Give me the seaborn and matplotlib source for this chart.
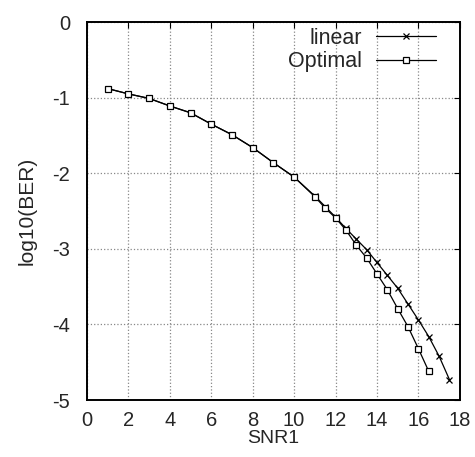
import numpy as np
import pandas as pd
import matplotlib
matplotlib.use('Agg')
import matplotlib.pyplot as plt
import seaborn as sns

# podaci ocitani sa slike
snr_linear = [1, 2, 3, 4, 5, 6, 7, 8, 9, 10, 11, 11.5, 12, 12.5, 13, 13.5,
              14, 14.5, 15, 15.5, 16, 16.5, 17, 17.5]
ber_linear = [-0.88, -0.95, -1.01, -1.11, -1.20, -1.35, -1.49, -1.66, -1.86, -2.05,
              -2.30, -2.44, -2.58, -2.73, -2.87, -3.01, -3.18, -3.35, -3.52, -3.73,
              -3.94, -4.16, -4.42, -4.73]

snr_optimal = [1, 2, 3, 4, 5, 6, 7, 8, 9, 10, 11, 11.5, 12, 12.5, 13, 13.5,
               14, 14.5, 15, 15.5, 16, 16.5]
ber_optimal = [-0.88, -0.95, -1.01, -1.11, -1.20, -1.35, -1.49, -1.66, -1.86, -2.05,
               -2.31, -2.46, -2.59, -2.75, -2.95, -3.12, -3.33, -3.54, -3.79, -4.03,
               -4.32, -4.62]

xticks = [0, 2, 4, 6, 8, 10, 12, 14, 16, 18]
yticks = [0, -1, -2, -3, -4, -5]

df_lin = pd.DataFrame({'SNR1': snr_linear, 'BER': ber_linear})
df_opt = pd.DataFrame({'SNR1': snr_optimal, 'BER': ber_optimal})

sns.set_style('white')
plt.rcParams['font.family'] = ['Liberation Sans', 'DejaVu Sans']
plt.rcParams['axes.unicode_minus'] = False

fig = plt.figure(figsize=(4.75, 4.57), dpi=100)
ax = fig.add_axes([0.183, 0.1247, 0.785, 0.827])

sns.lineplot(data=df_lin, x='SNR1', y='BER', ax=ax, color='black', lw=0.9,
             marker='x', markersize=4, markeredgewidth=0.9,
             markeredgecolor='black', label='linear')
sns.lineplot(data=df_opt, x='SNR1', y='BER', ax=ax, color='black', lw=0.9,
             marker='s', markersize=4.5, markerfacecolor='white',
             markeredgecolor='black', markeredgewidth=0.9, label='Optimal')

ax.set_xlim(0, 18)
ax.set_ylim(-5, 0)
ax.set_xticks(xticks)
ax.set_yticks(yticks)
ax.grid(True, color='#888888', linestyle=':', linewidth=0.9)
ax.tick_params(direction='in', length=4, top=True, right=True,
               labelsize=14.5, color='black')
ax.tick_params(axis='x', pad=8)
ax.tick_params(axis='y', pad=12)
for s in ax.spines.values():
    s.set_color('black')
    s.set_linewidth(1.4)

ax.set_xlabel('SNR1', fontsize=14, labelpad=0)
ax.set_ylabel('log10(BER)', fontsize=15, labelpad=11)

ax.legend(loc='upper right', bbox_to_anchor=(0.936, 0.985), frameon=False,
          markerfirst=False, fontsize=15.5, handlelength=2.8,
          handletextpad=0.65, borderaxespad=0, borderpad=0, labelspacing=0.12)

fig.savefig('out.png', dpi=100)
